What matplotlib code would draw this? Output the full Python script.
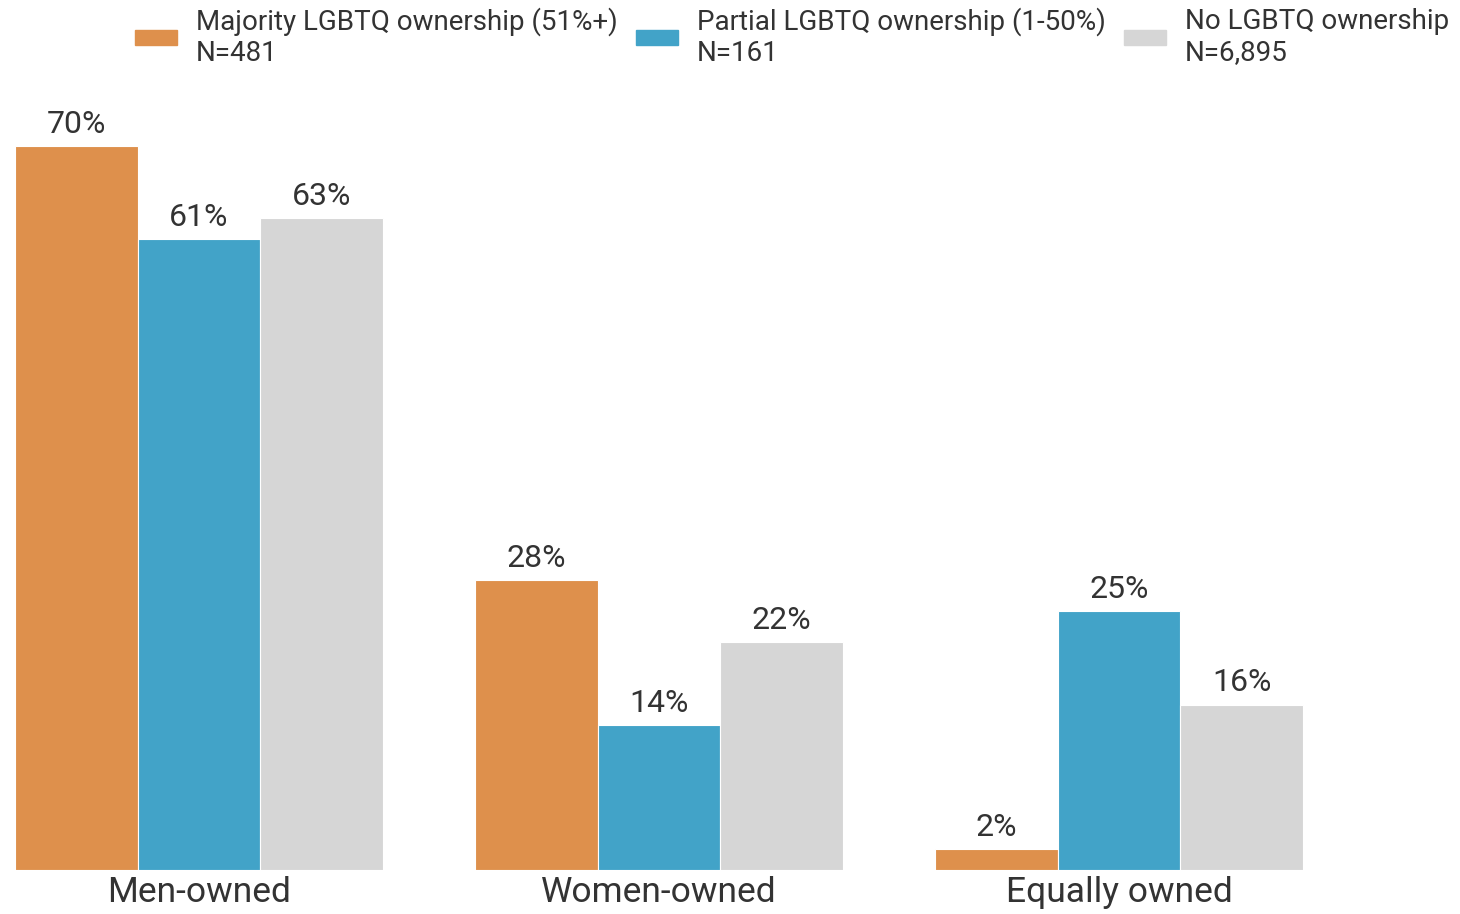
import matplotlib.pyplot as plt
from matplotlib.patches import Patch
import numpy as np

plt.rcParams['font.family'] = ['Roboto', 'DejaVu Sans']

categories = ['Men-owned', 'Women-owned', 'Equally owned']
series_names = ['Majority LGBTQ ownership (51%+)\nN=481',
                'Partial LGBTQ ownership (1-50%)\nN=161',
                'No LGBTQ ownership\nN=6,895']
majority = [70, 28, 2]
partial = [61, 14, 25]
none_lgbtq = [63, 22, 16]
colors = ['#DE904C', '#42A3C8', '#D6D6D6']

fig = plt.figure(figsize=(14.6, 9.14), dpi=100)
# axes spans full width; bottom at the bar baseline
ax = fig.add_axes([0, 44 / 914, 1, 770 / 914])

x = np.arange(len(categories))
w = 0.8 / 3
text_color = '#333333'
for i, vals in enumerate([majority, partial, none_lgbtq]):
    pos = x + (i - 1) * w
    ax.bar(pos, vals, width=w, color=colors[i], edgecolor='white', linewidth=0.8)
    for p, v in zip(pos, vals):
        ax.text(p, v + 0.7, f'{v}%', ha='center', va='bottom',
                fontsize=23, color=text_color)

ax.set_xlim(-0.4 - 15 / 460, -0.4 - 15 / 460 + 1460 / 460)
ax.set_ylim(0, 770 / 10.343)
ax.set_xticks(x)
ax.set_xticklabels(categories, fontsize=25.5, color=text_color)
ax.tick_params(axis='x', length=0, pad=4)
ax.set_yticks([])
for s in ax.spines.values():
    s.set_visible(False)

handles = [Patch(color=c) for c in colors]
fig.legend(handles, series_names, loc='upper left', bbox_to_anchor=(135 / 1460, 1 - 7 / 914),
           ncol=3, frameon=False, fontsize=20, labelcolor=text_color,
           handlelength=1.5, handleheight=0.45, handletextpad=0.7,
           columnspacing=0.65, labelspacing=0.25, borderpad=0, borderaxespad=0)

fig.savefig('out.png', dpi=100)
